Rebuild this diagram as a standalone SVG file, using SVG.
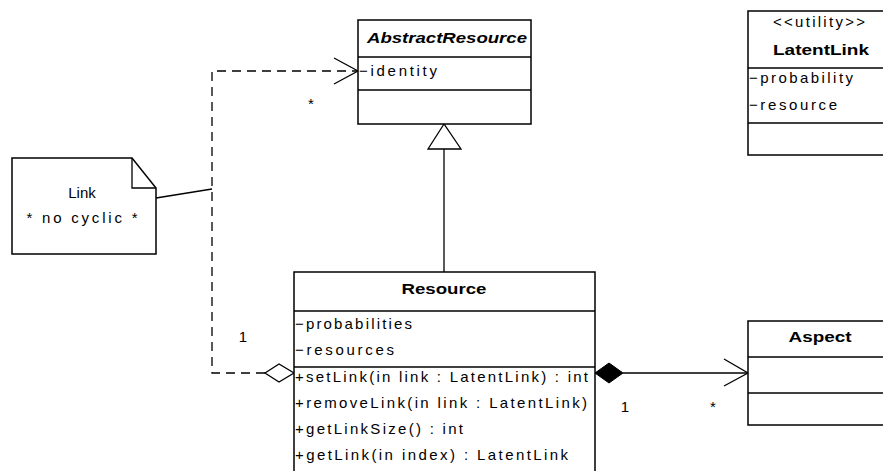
<svg xmlns="http://www.w3.org/2000/svg" width="883" height="471" viewBox="0 0 883 471">
  <style>
    .box { fill: #fff; stroke: #000; stroke-width: 1.5; }
    .div { stroke: #000; stroke-width: 1.5; fill: none; }
    .line { stroke: #000; stroke-width: 1.3; fill: none; }
    .dash { stroke: #000; stroke-width: 1.3; fill: none; stroke-dasharray: 9 6; }
    text { font-family: "Liberation Sans", Arial, sans-serif; font-size: 15px; fill: #000; }
    .title { font-weight: bold; text-anchor: middle; }
    .abstract { font-weight: bold; font-style: italic; text-anchor: middle; }
    .mid { text-anchor: middle; }
  </style>
  <rect width="883" height="471" fill="#fff"/>

  <!-- connectors -->
  <g id="connectors">
    <!-- Resource to AbstractResource dependency (dashed, with aggregation) -->
    <path class="dash" d="M265,373 H212 V71 H357"/>
    <polyline class="line" points="334,58 358,71 334,84"/>
    <polygon points="265,373 279,364 294,373 279,382" fill="#fff" stroke="#000" stroke-width="1.3"/>
    <!-- generalization -->
    <line class="line" x1="444" y1="149" x2="444" y2="272"/>
    <polygon points="444,124 428,149 461,149" fill="#fff" stroke="#000" stroke-width="1.3"/>
    <!-- composition Resource to Aspect -->
    <line class="line" x1="623" y1="373" x2="747" y2="373"/>
    <polygon points="595,373 609,363 623,373 609,383" fill="#000" stroke="#000" stroke-width="1"/>
    <polyline class="line" points="724,359 748,373 724,386"/>
    <!-- note anchor -->
    <line class="line" x1="156" y1="198" x2="212" y2="189"/>
    <!-- multiplicities -->
    <text x="311" y="109" class="mid">*</text>
    <text x="243" y="342" class="mid">1</text>
    <text x="625" y="412" class="mid">1</text>
    <text x="713" y="412" class="mid">*</text>
  </g>

  <!-- AbstractResource -->
  <g id="abstract-resource">
    <rect class="box" x="358" y="20" width="173" height="104"/>
    <line class="div" x1="358" y1="57" x2="531" y2="57"/>
    <line class="div" x1="358" y1="90" x2="531" y2="90"/>
    <text x="447" y="43" class="abstract" textLength="160" lengthAdjust="spacingAndGlyphs">AbstractResource</text>
    <text x="359" y="76" textLength="78" lengthAdjust="spacing">−identity</text>
  </g>

  <!-- LatentLink -->
  <g id="latent-link">
    <rect class="box" x="748" y="11" width="145" height="144"/>
    <line class="div" x1="748" y1="68" x2="883" y2="68"/>
    <line class="div" x1="748" y1="123" x2="883" y2="123"/>
    <text x="819" y="27" class="mid" textLength="92" lengthAdjust="spacing">&lt;&lt;utility&gt;&gt;</text>
    <text x="821" y="55" class="title" textLength="96" lengthAdjust="spacingAndGlyphs">LatentLink</text>
    <text x="749" y="83" textLength="104" lengthAdjust="spacing">−probability</text>
    <text x="749" y="110" textLength="88" lengthAdjust="spacing">−resource</text>
  </g>

  <!-- Note -->
  <g id="note-link">
    <path class="div" d="M12,158 H132 L156,188 V254 H12 Z" fill="#fff"/>
    <path class="line" d="M132,158 V188 H156"/>
    <text x="82" y="198" class="mid">Link</text>
    <text x="82" y="223" class="mid" textLength="111" lengthAdjust="spacing">* no cyclic *</text>
  </g>

  <!-- Resource -->
  <g id="resource">
    <path class="box" d="M294,472 V272 H595 V472"/>
    <line class="div" x1="294" y1="311" x2="595" y2="311"/>
    <line class="div" x1="294" y1="367" x2="595" y2="367"/>
    <text x="444" y="294" class="title" textLength="85" lengthAdjust="spacingAndGlyphs">Resource</text>
    <text x="295" y="329" textLength="117" lengthAdjust="spacing">−probabilities</text>
    <text x="295" y="355" textLength="99" lengthAdjust="spacing">−resources</text>
    <text x="295" y="382" textLength="293" lengthAdjust="spacing">+setLink(in link : LatentLink) : int</text>
    <text x="295" y="408" textLength="292" lengthAdjust="spacing">+removeLink(in link : LatentLink)</text>
    <text x="295" y="434" textLength="168" lengthAdjust="spacing">+getLinkSize() : int</text>
    <text x="295" y="460" textLength="273" lengthAdjust="spacing">+getLink(in index) : LatentLink</text>
  </g>

  <!-- Aspect -->
  <g id="aspect">
    <rect class="box" x="748" y="321" width="145" height="104"/>
    <line class="div" x1="748" y1="357" x2="883" y2="357"/>
    <line class="div" x1="748" y1="393" x2="883" y2="393"/>
    <text x="820" y="342" class="title" textLength="63" lengthAdjust="spacingAndGlyphs">Aspect</text>
  </g>
</svg>
